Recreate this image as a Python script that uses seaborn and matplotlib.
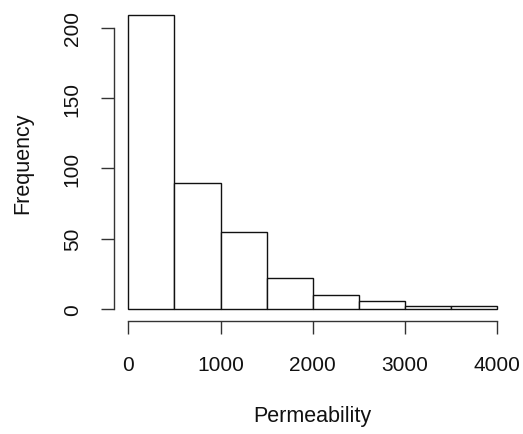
import matplotlib
matplotlib.use("Agg")
import matplotlib.pyplot as plt
import seaborn as sns
import numpy as np
import pandas as pd

bin_edges = [0, 500, 1000, 1500, 2000, 2500, 3000, 3500, 4000]
counts = [209, 90, 55, 22, 10, 6, 2, 2]
x_ticks = [0, 1000, 2000, 3000, 4000]
y_ticks = [0, 50, 100, 150, 200]

sns.set_theme(style="white")
plt.rcParams['font.family'] = ['Liberation Sans', 'DejaVu Sans']

centers = [(a + b) / 2 for a, b in zip(bin_edges[:-1], bin_edges[1:])]
df = pd.DataFrame({"Permeability": centers, "count": counts})

fig = plt.figure(figsize=(5.23, 4.35), dpi=100)
ax = fig.add_axes([113.5 / 523, 1 - 321.7 / 435, 398.5 / 523, (321.7 - 4.6) / 435])

sns.histplot(data=df, x="Permeability", weights="count", bins=bin_edges,
             stat="count", fill=True, color="white", edgecolor="#111111",
             linewidth=1.0, alpha=1.0, ax=ax)

ax.set_xlim(-160, 4160)
ymax = max(counts)
ax.set_ylim(-0.04 * ymax, 1.04 * ymax)

for s in ["top", "right"]:
    ax.spines[s].set_visible(False)
ax.spines["left"].set_bounds(0, 200)
ax.spines["bottom"].set_bounds(0, 4000)
for s in ["left", "bottom"]:
    ax.spines[s].set_color("#333333")
    ax.spines[s].set_linewidth(1.0)
ax.spines["bottom"].set_position(("outward", 0))

ax.set_xticks(x_ticks)
ax.set_yticks(y_ticks)
ax.set_yticklabels([str(v) for v in y_ticks], rotation=90, va="center")
ax.tick_params(axis="both", direction="out", length=9.4, width=1.0,
               color="#333333", labelsize=15, labelcolor="#111111")
ax.tick_params(axis="x", pad=15)
ax.tick_params(axis="y", pad=13.5)
ax.tick_params(left=True, bottom=True)

ax.set_xlabel("Permeability", fontsize=15.5, color="#111111")
ax.set_ylabel("Frequency", fontsize=15.5, color="#111111")
ax.xaxis.set_label_coords(0.5, (321.7 - 417) / 317.1)
ax.xaxis.label.set_va("center")
ax.yaxis.set_label_coords((23 - 113.5) / 398.5, 0.5)
ax.yaxis.label.set_va("center")

ax.grid(False)
fig.savefig("out.png", dpi=100, facecolor="white")
